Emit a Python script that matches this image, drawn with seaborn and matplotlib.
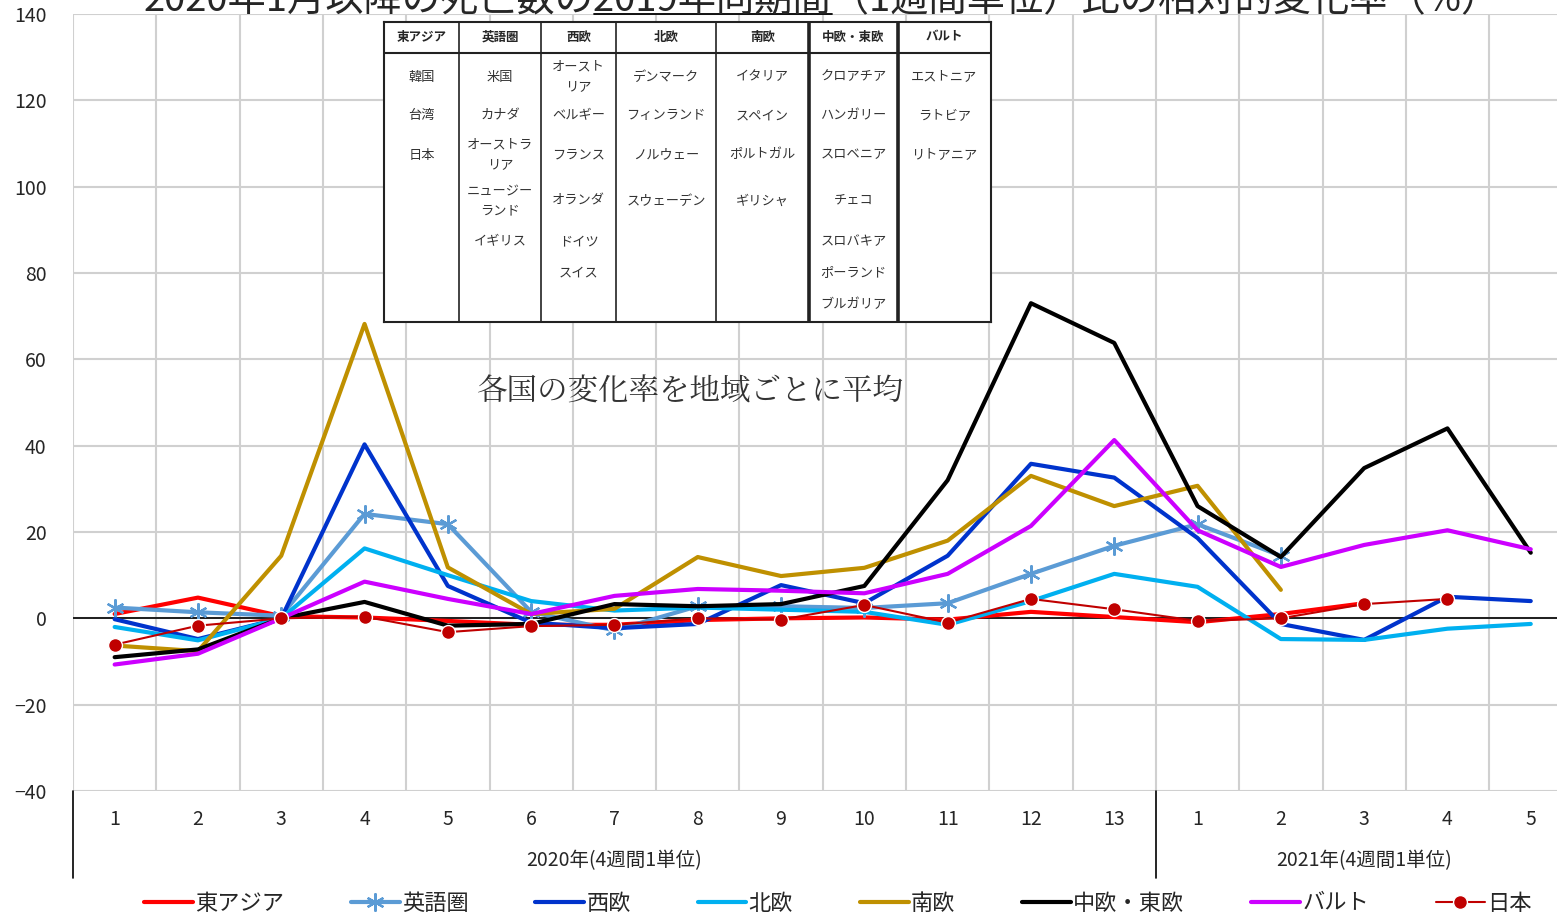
import numpy as np
import pandas as pd
import matplotlib.pyplot as plt
import seaborn as sns
from matplotlib.lines import Line2D
from matplotlib.transforms import blended_transform_factory

# x categories: 2020 periods 1-13, 2021 periods 1-5
tick_labels = [str(i) for i in range(1, 14)] + [str(i) for i in range(1, 6)]
nan = np.nan

east_asia = [1.0, 4.8, 0.5, 0.2, -0.6, -1.5, -1.5, -0.4, 0.0, 0.2, -0.3, 1.5, 0.3, -0.9, 1.0, 3.5, nan, nan]
anglo = [2.5, 1.4, 0.6, 24.2, 21.8, 1.5, -2.8, 2.8, 2.8, 2.4, 3.5, 10.3, 16.8, 21.8, 14.5, nan, nan, nan]
west_eu = [-0.2, -4.8, 0.0, 40.3, 7.5, -1.0, -2.3, -1.3, 7.7, 3.5, 14.5, 35.8, 32.6, 18.6, -1.3, -5.0, 5.0, 4.0]
north_eu = [-2.0, -5.1, 0.0, 16.2, 10.0, 4.0, 1.8, 2.5, 2.0, 1.5, -1.5, 4.0, 10.3, 7.3, -4.8, -5.0, -2.4, -1.3]
south_eu = [-6.3, -7.6, 14.5, 68.2, 11.8, 1.0, 2.2, 14.2, 9.8, 11.7, 18.0, 33.0, 26.0, 30.7, 6.6, nan, nan, nan]
central_east_eu = [-9.0, -7.2, 0.0, 3.8, -1.7, -1.3, 3.3, 2.8, 3.3, 7.5, 32.0, 73.0, 63.8, 26.0, 14.2, 34.8, 44.0, 15.2]
baltic = [-10.7, -8.2, 0.0, 8.5, 4.5, 1.0, 5.2, 6.8, 6.4, 5.8, 10.3, 21.4, 41.3, 20.4, 11.9, 17.0, 20.4, 16.0]
japan = [-6.1, -1.7, 0.0, 0.4, -3.2, -1.8, -1.5, 0.0, -0.3, 3.1, -1.0, 4.5, 2.1, -0.6, 0.0, 3.3, 4.5, nan]

series_names = ['東アジア', '英語圏', '西欧', '北欧', '南欧', '中欧・東欧', 'バルト', '日本']
series_colors = ['#FF0000', '#5B9BD5', '#0033CC', '#00B0F0', '#BF9000', '#000000', '#CC00FF', '#C00000']

group_labels = ['2020年(4週間1単位)', '2021年(4週間1単位)']
title_parts = ['2020年1月以降の死亡数の', '2019年同期間', '（1週間単位）比の相対的変化率（%）']
note = '各国の変化率を地域ごとに平均'

table_headers = ['東アジア', '英語圏', '西欧', '北欧', '南欧', '中欧・東欧', 'バルト']
table_rows = [
    ['韓国', '台湾', '日本'],
    ['米国', 'カナダ', 'オーストラ\nリア', 'ニュージー\nランド', 'イギリス'],
    ['オースト\nリア', 'ベルギー', 'フランス', 'オランダ', 'ドイツ', 'スイス'],
    ['デンマーク', 'フィンランド', 'ノルウェー', 'スウェーデン'],
    ['イタリア', 'スペイン', 'ポルトガル', 'ギリシャ'],
    ['クロアチア', 'ハンガリー', 'スロベニア', 'チェコ', 'スロバキア', 'ポーランド', 'ブルガリア'],
    ['エストニア', 'ラトビア', 'リトアニア'],
]

sns.set_theme(style='white')
plt.rcParams['font.family'] = ['Liberation Sans Narrow', 'Noto Sans CJK JP', 'DejaVu Sans']

values = [east_asia, anglo, west_eu, north_eu, south_eu, central_east_eu, baltic, japan]
pos = np.arange(len(tick_labels))
df = pd.DataFrame({name: vals for name, vals in zip(series_names, values)})
df['pos'] = pos

fig = plt.figure(figsize=(15.57, 9.15), dpi=100)
W, H = 1557, 915
ax = fig.add_axes([73 / W, (H - 791) / H, (W - 73) / W, (791 - 14) / H])

styles = {
    '英語圏': dict(marker=(6, 2, 0), markersize=13, markeredgewidth=1.6, markeredgecolor='#5B9BD5'),
    '日本': dict(marker='o', markersize=10, markeredgecolor='white', markeredgewidth=1.0, linewidth=1.5),
}
for name, color in zip(series_names, series_colors):
    kw = dict(linewidth=3.0)
    kw.update(styles.get(name, {}))
    sub = df[['pos', name]].dropna()
    sns.lineplot(x=sub['pos'], y=sub[name], ax=ax, color=color, label=name, **kw)

ax.set_xlim(-0.5, -0.5 + (W - 73) / 83.3)
ax.set_ylim(-40, 140)
ax.set_yticks(np.arange(-40, 141, 20))
ax.set_xticks(pos)
ax.set_xticklabels(tick_labels, fontsize=14)
ax.tick_params(axis='y', labelsize=14, length=0, pad=19)
ax.tick_params(axis='x', length=0, pad=13)
ax.set_xlabel('')
ax.set_ylabel('')
ax.set_yticklabels([str(v).replace('-', '\u2212') for v in range(-40, 141, 20)])

for v in np.arange(-40, 141, 20):
    ax.axhline(v, color='#D0D0D0', lw=1.5, zorder=0)
ax.axhline(0, color='black', lw=1.2, zorder=1)
for b in np.arange(0.5, len(tick_labels) - 0.5, 1):
    ax.axvline(b, color='#D0D0D0', lw=1.5, zorder=0)
for s in ax.spines.values():
    s.set_visible(False)
ax.axvline(-0.5, color='#D0D0D0', lw=1.5, zorder=0)

trans = blended_transform_factory(ax.transData, ax.transAxes)
for xb in [-0.5, 12.5]:
    ax.plot([xb, xb], [0, -0.112], transform=trans, color='black', lw=1.2, clip_on=False)
ax.text(6, -0.09, group_labels[0], transform=trans, ha='center', va='center', fontsize=14)
ax.text(15, -0.09, group_labels[1], transform=trans, ha='center', va='center', fontsize=14)

ax.text(6.9, 52.5, note, fontsize=22, color='#333333', ha='center', va='center',
        family=['Noto Serif CJK JP', 'Noto Sans CJK JP'])

# title (cut off at the top edge like the source), with the comparison period underlined
title_y = 1 - 11 / H
title = fig.text(0.528, title_y, ''.join(title_parts), ha='center', va='baseline', fontsize=27.5)
renderer = fig.canvas.get_renderer()
full_bb = title.get_window_extent(renderer)
probe = fig.text(0, 0, title_parts[0], fontsize=27.5)
pre_w = probe.get_window_extent(renderer).width
probe.set_text(title_parts[1])
mid_w = probe.get_window_extent(renderer).width
probe.remove()
ux0 = (full_bb.x0 + pre_w) / W
ux1 = (full_bb.x0 + pre_w + mid_w) / W
fig.add_artist(Line2D([ux0, ux1], [title_y - 3 / H] * 2, transform=fig.transFigure, color='black', lw=1.3))

handles, labels = ax.get_legend_handles_labels()
ax.legend_.remove()
fig.legend(handles, labels, loc='center', bbox_to_anchor=(0.538, 0.013), ncol=8,
           frameon=False, fontsize=16, handlelength=2.2, handletextpad=0.1, columnspacing=3.0)

# inset table of countries per region
tx0, tx1, ty0, ty1 = 384, 991, 22, 322
tax = fig.add_axes([tx0 / W, (H - ty1) / H, (tx1 - tx0) / W, (ty1 - ty0) / H])
tax.set_xlim(tx0, tx1)
tax.set_ylim(ty1, ty0)
tax.set_facecolor('white')
tax.set_xticks([])
tax.set_yticks([])
for s in tax.spines.values():
    s.set_linewidth(1.5)
    s.set_color('#222222')
col_edges = [384, 459, 541, 616, 716, 809, 898, 991]
slots = [77, 116, 155, 201, 242, 273, 305]
tax.plot([tx0, tx1], [53, 53], color='#222222', lw=1.5)
for xe in col_edges[1:-1]:
    lw = 2.6 if xe in (809, 898) else 1.2
    tax.plot([xe, xe], [ty0, ty1], color='#222222', lw=lw)
for i, (hdr, rows) in enumerate(zip(table_headers, table_rows)):
    cx = (col_edges[i] + col_edges[i + 1]) / 2
    tax.text(cx, 37, hdr, ha='center', va='center', fontsize=9, fontweight='bold',
             family=['Noto Sans CJK JP'])
    for j, r in enumerate(rows):
        tax.text(cx, slots[j], r, ha='center', va='center', fontsize=9.5, color='#333333',
                 linespacing=1.7, family=['Noto Sans CJK JP'])

fig.savefig('out.png', dpi=100)
